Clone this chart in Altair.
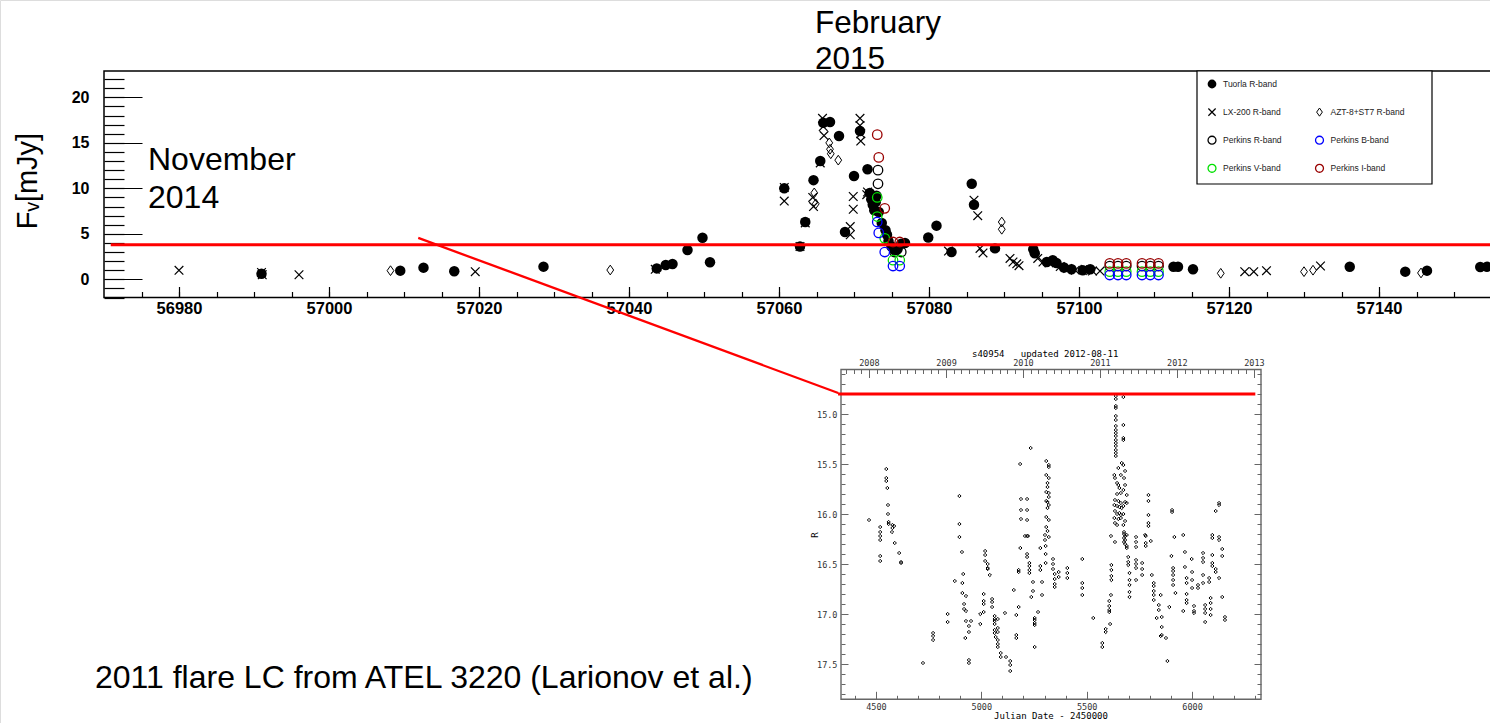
import altair as alt
import pandas as pd

# ---------------- top light curve: JD-2400000 vs flux density (mJy)
tuorla_jd = [56991.0, 57009.5, 57012.6, 57016.7, 57028.6, 57043.7, 57044.9, 57045.8, 57047.8, 57049.8, 57050.8,
             57060.7, 57062.8, 57063.5, 57064.6, 57065.5, 57065.9, 57066.8, 57068.0, 57068.8, 57070.0, 57070.8,
             57071.8, 57072.1, 57072.3, 57072.5, 57072.7, 57072.9, 57073.0, 57073.3, 57073.7, 57074.2, 57074.4,
             57074.6, 57075.0, 57075.4, 57075.8, 57076.3, 57076.8, 57079.9, 57081.0, 57083.0, 57085.7, 57086.0,
             57088.8, 57093.9, 57094.1, 57095.7, 57096.5, 57097.0, 57098.0, 57099.0, 57100.5, 57101.5, 57112.6,
             57113.2, 57115.2, 57136.1, 57143.5, 57146.4, 57153.5, 57154.4]
tuorla_f = [0.6, 0.95, 1.28, 0.88, 1.39, 1.2, 1.57, 1.68, 3.22, 4.57, 1.87,
            10.0, 3.6, 6.3, 10.9, 13.0, 17.2, 17.3, 15.75, 5.2, 11.35, 16.3,
            12.1, 9.5, 8.8, 8.2, 7.6, 8.5, 9.2, 7.4, 6.2, 5.4, 4.9,
            4.2, 3.6, 3.2, 3.3, 3.9, 4.0, 4.6, 5.9, 3.0, 10.5, 8.2,
            3.4, 3.3, 2.86, 1.9, 2.1, 1.8, 1.3, 1.1, 1.0, 1.1, 1.38,
            1.38, 1.1, 1.38, 0.84, 0.95, 1.35, 1.38]

lx_jd = [56980.0, 56991.0, 56991.1, 56996.0, 57019.5, 57043.5, 57060.7, 57060.7, 57062.8, 57063.5,
         57064.5, 57064.6, 57065.5, 57065.8, 57065.9, 57066.0, 57069.5, 57069.5, 57069.9, 57069.9,
         57070.8, 57070.8, 57070.9, 57070.9, 57071.7, 57071.8, 57082.6, 57086.0, 57086.5, 57086.8,
         57087.2, 57090.8, 57091.2, 57091.7, 57092.0, 57094.5, 57095.2, 57096.0, 57097.5, 57098.5,
         57099.5, 57100.8, 57101.8, 57102.8, 57122.1, 57123.3, 57125.0, 57132.2]
lx_f = [0.99, 0.75, 0.5, 0.5, 0.84, 1.1, 10.1, 8.6, 3.6, 6.2,
        9.0, 8.0, 12.8, 17.7, 16.8, 15.8, 5.8, 4.9, 9.1, 7.7,
        17.7, 16.9, 16.0, 15.2, 9.3, 9.6, 3.1, 8.7, 7.0, 3.4,
        2.9, 2.3, 1.9, 1.7, 1.5, 2.3, 1.9, 1.8, 1.4, 1.2,
        1.0, 1.1, 0.9, 0.9, 0.84, 0.84, 0.95, 1.46]

azt_jd = [57008.2, 57037.5, 57064.7, 57064.9, 57066.7, 57066.8, 57066.9, 57067.9,
          57089.7, 57089.7, 57101.0, 57118.9, 57130.0, 57131.2, 57145.6]
azt_f = [0.95, 1.02, 9.5, 8.3, 15.0, 14.3, 13.8, 13.1, 6.3, 5.5, 1.0, 0.66, 0.84, 1.0, 0.7]

pR_jd = [57073.2, 57073.2, 57075.4, 57076.3, 57104.1, 57105.2, 57106.3, 57108.4, 57109.5, 57110.6]
pR_f = [12.0, 10.5, 3.0, 3.0, 1.46, 1.46, 1.46, 1.46, 1.46, 1.46]
pB_jd = [57073.1, 57073.3, 57074.1, 57075.2, 57076.1, 57104.1, 57105.2, 57106.3, 57108.4, 57109.5, 57110.6]
pB_f = [6.3, 5.1, 3.0, 1.46, 1.46, 0.47, 0.47, 0.47, 0.47, 0.47, 0.47]
pV_jd = [57073.1, 57073.1, 57074.1, 57075.2, 57076.1, 57104.1, 57105.2, 57106.3, 57108.4, 57109.5, 57110.6]
pV_f = [9.0, 6.9, 4.5, 2.1, 2.1, 0.84, 0.84, 0.84, 0.84, 0.84, 0.84]
pI_jd = [57073.1, 57073.3, 57074.1, 57075.2, 57076.1, 57104.1, 57105.2, 57106.3, 57108.4, 57109.5, 57110.6]
pI_f = [15.9, 13.4, 7.8, 4.1, 4.1, 1.75, 1.75, 1.75, 1.75, 1.75, 1.75]

flux_level = 3.8          # red horizontal level (mJy)
mag_level = 14.8          # same level in the inset (R mag)

legend_labels = ["Tuorla R-band", "LX-200 R-band", "AZT-8+ST7 R-band", "Perkins R-band",
                 "Perkins B-band", "Perkins V-band", "Perkins I-band"]
legend_col = [0, 0, 1, 0, 1, 0, 1]
legend_row = [0, 1, 1, 2, 2, 3, 3]

top_x_major = [56980, 57000, 57020, 57040, 57060, 57080, 57100, 57120, 57140]
top_y_major = [0, 5, 10, 15, 20]

# ---------------- inset (2011 flare, JD-2450000 vs R mag)
inset_groups = [
    (4467, [16.06]), (4520, [16.13, 16.18, 16.22, 16.26, 16.42, 16.47]), (4549, [15.55, 15.64, 15.67]),
    (4554, [15.74]), (4557, [15.91, 16.0]), (4560, [16.08, 16.10]), (4576, [16.18]), (4578, [16.11, 16.14]),
    (4586, [16.12]), (4589, [16.29]), (4610, [16.39]), (4619, [16.48, 16.49]), (4723, [17.49]),
    (4771, [17.19, 17.22, 17.26]), (4840, [17.0, 17.08]), (4874, [16.67]), (4896, [15.82, 16.10, 16.23]),
    (4908, [16.38]), (4910, [16.69, 16.79]), (4914, [16.6]), (4918, [16.9, 16.95]), (4924, [17.24]),
    (4927, [16.82, 16.97, 17.07]), (4941, [17.12, 17.18, 17.46, 17.49]), (4951, [17.07]), (4995, [17.0, 17.1]),
    (5011, [16.8, 16.87, 16.9, 16.98]), (5018, [16.37, 16.41, 16.47]), (5030, [16.5, 16.54, 16.55]),
    (5040, [16.61]), (5051, [16.85, 16.88, 16.93]), (5063, [17.02, 17.05, 17.07, 17.1, 17.16, 17.19]),
    (5068, [17.23]), (5078, [17.05, 17.14, 17.18, 17.26, 17.3, 17.33]), (5092, [17.39, 17.43]),
    (5112, [16.99]), (5117, [17.43]), (5137, [17.47, 17.51, 17.57]), (5154, [16.76]),
    (5166, [17.01, 17.21, 17.24]), (5177, [16.56, 16.58, 16.93]), (5184, [15.5]), (5185, [16.34]),
    (5188, [15.85, 15.96, 16.05]), (5207, [16.22]), (5217, [15.85, 15.96, 16.06, 16.22, 16.4, 16.43]),
    (5221, [16.22]), (5228, [16.49, 16.52, 16.56, 16.59]), (5234, [15.34]), (5237, [16.83]),
    (5245, [16.68, 16.77]), (5253, [17.04, 17.06, 17.09, 17.11, 17.33]), (5269, [16.98]),
    (5280, [16.34, 16.52, 16.56]), (5288, [16.68, 16.81]), (5302, [16.21, 16.26]), (5305, [16.32, 16.4, 16.49]),
    (5308, [15.47, 15.61, 15.78, 15.87, 16.03, 16.13]), (5314, [15.69, 15.73, 15.88, 15.94, 16.17]),
    (5320, [15.51, 15.53, 15.64, 15.79, 15.83, 15.91, 16.06, 16.23]), (5340, [16.45, 16.5, 16.55]),
    (5348, [16.6, 16.65, 16.7, 16.73]), (5367, [16.58, 16.63]), (5408, [16.54, 16.59, 16.64]),
    (5479, [16.45, 16.69, 16.74, 16.81]), (5531, [17.04]), (5574, [17.29, 17.33]), (5590, [17.15, 17.18]),
    (5607, [16.87, 16.92, 16.96, 16.98]), (5611, [17.10]), (5615, [16.22, 16.81]),
    (5617, [16.51, 16.56, 16.62, 16.66]), (5631, [15.61, 15.91, 16.04]), (5634, [15.64, 15.86, 15.97, 16.09, 16.28]),
    (5638, [14.82, 14.85, 14.92, 14.94, 15.02, 15.06, 15.12, 15.16, 15.19, 15.22, 15.26, 15.29, 15.32,
            15.36, 15.39, 15.42]),
    (5644, [15.69, 15.8, 15.92, 16.0, 16.11]), (5650, [15.54, 15.71, 15.87, 16.05]), (5655, [15.74, 15.93, 15.99]),
    (5662, [15.61, 15.79, 15.89, 16.01, 16.04]), (5666, [15.49, 15.94]),
    (5674, [14.83, 15.11, 15.24, 15.26, 15.51, 15.76, 15.92, 16.0, 16.11]),
    (5677, [15.64, 16.18, 16.2, 16.24, 16.28]), (5682, [15.57, 15.71, 15.88, 16.07, 16.22, 16.26, 16.3]),
    (5690, [15.81, 15.89, 16.21, 16.32, 16.34]), (5697, [16.43, 16.48, 16.51]),
    (5703, [16.59, 16.66, 16.71, 16.78, 16.83]), (5734, [16.23, 16.28, 16.33, 16.46, 16.5, 16.54, 16.66]),
    (5763, [16.49, 16.55, 16.61]), (5777, [16.21]), (5780, [16.22, 16.29, 16.32]),
    (5793, [15.81, 15.87, 16.01, 16.09, 16.12]), (5804, [16.27]), (5809, [16.61]),
    (5818, [16.69, 16.72, 16.77, 16.81, 16.86]), (5832, [17.04]), (5842, [16.91, 16.96]), (5851, [16.81, 17.22]),
    (5856, [17.03, 17.13, 17.21]), (5876, [17.24]), (5883, [17.47]), (5892, [16.93]), (5902, [16.42]),
    (5905, [15.96, 15.98]), (5910, [16.54, 16.57, 16.61, 16.66, 16.71]), (5916, [16.23]), (5921, [16.79]),
    (5958, [16.21, 16.97]), (5966, [16.38, 16.53]), (5974, [16.64, 16.69, 16.8, 16.86, 16.89]), (5998, [16.45]),
    (6000, [16.58, 16.66, 16.74]), (6009, [16.92, 16.97, 16.99]), (6028, [16.71, 16.74]),
    (6052, [16.39, 16.44, 16.48, 16.61, 16.69]), (6062, [16.91, 16.95, 16.99, 17.08]), (6081, [16.64, 16.68]),
    (6088, [16.84, 16.89, 16.95, 17.01]), (6096, [16.21, 16.24, 16.41, 16.49, 16.52]),
    (6112, [15.97, 16.55, 16.58]), (6128, [15.89, 15.91, 16.23, 16.26, 16.64]), (6143, [16.35, 16.42, 16.83]),
    (6156, [17.03, 17.06]),
]
inset_x_major = [4500, 5000, 5500, 6000]
inset_y_major = [15.0, 15.5, 16.0, 16.5, 17.0, 17.5]
year_jd = [4466.5, 4832.5, 5197.5, 5562.5, 5927.5, 6293.5]   # Jan 1 of 2008..2013

# ---------------- layout (scale domains and pixel ranges)
FONT = "Liberation Sans"
MONO = "DejaVu Sans Mono"
XT = ([56970, 57155], [104, 1491.5])
YT = ([-2, 22.9], [297.5, 71])
XI = ([4334, 6327], [841, 1261])
YI = ([14.555, 17.853], [369.5, 699.3])
LXs = ([0, 1], [1212, 1319.5])
LYs = ([0, 3], [84, 168.3])
W, H = 1490, 723
ONE = pd.DataFrame({"k": [0]})


def S(d):
    return alt.Scale(domain=d[0], range=d[1], nice=False, zero=False)


def pts(xv, yv, xs, ys, **mk):
    df = pd.DataFrame({"x": xv, "y": yv})
    return alt.Chart(df).mark_point(opacity=1, **mk).encode(
        x=alt.X("x:Q", scale=S(xs), axis=None),
        y=alt.Y("y:Q", scale=S(ys), axis=None))


def line(xv, yv, xs, ys, **mk):
    df = pd.DataFrame({"x": xv, "y": yv})
    return alt.Chart(df).mark_line(**mk).encode(
        x=alt.X("x:Q", scale=S(xs), axis=None),
        y=alt.Y("y:Q", scale=S(ys), axis=None))


def frame(x0, x1, y0, y1, xs, ys, **mk):
    df = pd.DataFrame({"x0": [x0], "x1": [x1], "y0": [y0], "y1": [y1]})
    return alt.Chart(df).mark_rect(fillOpacity=0, **mk).encode(
        x=alt.X("x0:Q", scale=S(xs), axis=None), x2="x1:Q",
        y=alt.Y("y0:Q", scale=S(ys), axis=None), y2="y1:Q")


def axis(ch, sc, vals, orient, size, offset, color="black", width=1.0, labels=False, **kw):
    df = pd.DataFrame({"v": vals})
    ax = alt.Axis(orient=orient, values=vals, tickSize=size, offset=offset, domain=False, grid=False,
                  labels=labels, ticks=True, tickColor=color, tickWidth=width,
                  labelFlush=False, labelOverlap=False, labelBound=False, **kw)
    enc = (alt.X if ch == "x" else alt.Y)("v:Q", scale=S(sc), axis=ax, title=None)
    return alt.Chart(df).mark_point(opacity=0).encode(**{ch: enc})


def text(lines, x, y, size, font=FONT, **mk):
    return alt.Chart(ONE).mark_text(text=lines, font=font, fontSize=size, color="black", **mk).encode(
        x=alt.value(x), y=alt.value(y))


XPATH = "M-1,-1L1,1M-1,1L1,-1"
DPATH = "M0,-1L0.7,0L0,1L-0.7,0Z"
styles = {
    "Tuorla R-band": dict(shape="circle", filled=True, color="black", size=110),
    "LX-200 R-band": dict(shape=XPATH, filled=False, color="black", size=75, strokeWidth=1.2),
    "AZT-8+ST7 R-band": dict(shape=DPATH, filled=False, color="black", size=95, strokeWidth=1.0),
    "Perkins R-band": dict(shape="circle", filled=False, color="black", size=90, strokeWidth=1.3),
    "Perkins B-band": dict(shape="circle", filled=False, color="#0000ff", size=90, strokeWidth=1.3),
    "Perkins V-band": dict(shape="circle", filled=False, color="#00e000", size=90, strokeWidth=1.3),
    "Perkins I-band": dict(shape="circle", filled=False, color="#990000", size=90, strokeWidth=1.3),
}
series = [("LX-200 R-band", lx_jd, lx_f), ("AZT-8+ST7 R-band", azt_jd, azt_f),
          ("Tuorla R-band", tuorla_jd, tuorla_f), ("Perkins R-band", pR_jd, pR_f),
          ("Perkins V-band", pV_jd, pV_f), ("Perkins B-band", pB_jd, pB_f),
          ("Perkins I-band", pI_jd, pI_f)]

layers = []

# ---- top panel
layers.append(frame(56970, 57160, -2, 22.9, XT, YT, stroke="black", strokeWidth=1.5))
layers.append(axis("y", YT, top_y_major, "left", 38, -142, width=1.2, labels=True, format="d",
                   labelFont=FONT, labelFontSize=16, labelFontWeight="bold", labelColor="black",
                   labelPadding=15))
layers.append(axis("y", YT, list(range(-2, 23)), "left", 20, -124, width=1.2))
layers.append(axis("x", XT, top_x_major, "bottom", 11, 297.5 - 11 - H, width=1.2, labels=True, format="d",
                   labelFont=FONT, labelFontSize=16.5, labelFontWeight="bold", labelColor="black",
                   labelPadding=3))
layers.append(axis("x", XT, list(range(56975, 57156, 5)), "bottom", 6, 297.5 - 6 - H, width=1.2))
for name, xv, yv in series:
    layers.append(pts(xv, yv, XT, YT, **styles[name]))
layers.append(line([56970.9, 57155], [flux_level, flux_level], XT, YT, color="#ff0000", strokeWidth=2.8))
layers.append(line([57011.9, 57067.9], [4.55, -12.5], XT, YT, color="#ff0000", strokeWidth=2.3))

# ---- legend
layers.append(alt.Chart(ONE).mark_rect(fill="white", stroke="black", strokeWidth=1.2).encode(
    x=alt.value(1197), x2=alt.value(1432), y=alt.value(71), y2=alt.value(184)))
for lab, c, r in zip(legend_labels, legend_col, legend_row):
    st = dict(styles[lab])
    st["size"] = st["size"] * 0.7
    layers.append(pts([c], [r], LXs, LYs, **st))
leg_df = pd.DataFrame({"lab": legend_labels, "c": legend_col, "r": legend_row})
layers.append(alt.Chart(leg_df).mark_text(align="left", baseline="middle", dx=11, font=FONT, fontSize=8.5,
                                          color="#222").encode(
    x=alt.X("c:Q", scale=S(LXs), axis=None), y=alt.Y("r:Q", scale=S(LYs), axis=None), text="lab:N"))

# ---- inset
ijd = [g[0] for g in inset_groups for _ in g[1]]
imag = [m for g in inset_groups for m in g[1]]
GR = "#666666"
layers.append(frame(4334, 6327, 14.555, 17.853, XI, YI, stroke=GR, strokeWidth=1.4))
ilab = dict(labelFont=MONO, labelFontSize=8.5, labelColor="#333333")
layers.append(axis("y", YI, inset_y_major, "left", 7, -(841 + 7), color=GR, labels=True, format=".1f",
                   labelPadding=4, **ilab))
layers.append(axis("y", YI, [round(14.6 + 0.1 * i, 1) for i in range(33)], "left", 4, -(841 + 4), color=GR))
layers.append(axis("y", YI, inset_y_major, "right", 7, (1261 - 7) - W, color=GR))
layers.append(axis("y", YI, [round(14.6 + 0.1 * i, 1) for i in range(33)], "right", 4, (1261 - 4) - W, color=GR))
layers.append(axis("x", XI, inset_x_major, "bottom", 8, (699.3 - 8) - H, color=GR, labels=True, format="d",
                   labelPadding=3, **ilab))
layers.append(axis("x", XI, list(range(4400, 6400, 100)), "bottom", 4, (699.3 - 4) - H, color=GR))
layers.append(axis("x", XI, year_jd, "top", 8, -(369.5 + 8), color=GR, labels=True,
                   labelExpr="toString(round(2008 + (datum.value - 4466.5) / 365.25))",
                   labelPadding=2, **ilab))
layers.append(axis("x", XI, [4466.5 + 36.525 * k for k in range(-3, 51)], "top", 4, -(369.5 + 4), color=GR))
layers.append(pts(ijd, imag, XI, YI, shape="diamond", filled=False, color="black", size=11, strokeWidth=1.0))
layers.append(line([4320, 6300], [mag_level, mag_level], XI, YI, color="#ff0000", strokeWidth=2.8))

# ---- texts
layers.append(text(["February", "2015"], 815, 33, 31.5, align="left", baseline="alphabetic", lineHeight=36))
layers.append(text(["November", "2014"], 148, 170, 32, align="left", baseline="alphabetic", lineHeight=37.5))
layers.append(text("2011 flare LC from ATEL 3220 (Larionov et al.)", 95, 688, 32, align="left",
                   baseline="alphabetic"))
layers.append(text("F\u1d65[mJy]", 28, 181, 29, align="center", baseline="middle", angle=270))
layers.append(text("s40954\u00a0\u00a0\u00a0updated 2012-08-11", 972, 357, 9, font=MONO, align="left",
                   baseline="alphabetic"))
layers.append(text("Julian Date - 2450000", 1051, 719, 9, font=MONO, align="center", baseline="alphabetic"))
layers.append(text("R", 815, 535, 9, font=MONO, align="center", baseline="middle", angle=270))

chart = alt.layer(*layers).resolve_scale(x="independent", y="independent").properties(
    width=W, height=H, autosize=alt.AutoSizeParams(type="none"), padding=0
).configure_view(stroke=None).configure(background="white")

chart.save("out.html", embed_options={"renderer": "svg", "actions": False})
